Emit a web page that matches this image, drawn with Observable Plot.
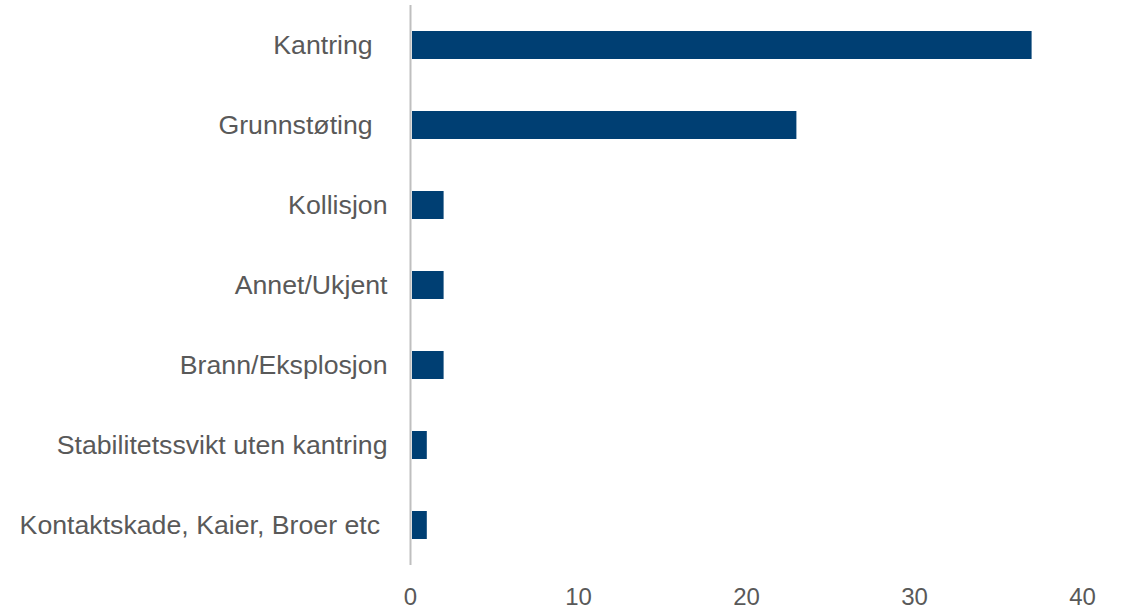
<!DOCTYPE html>
<html>
<head>
<meta charset="utf-8">
<script src="https://cdn.jsdelivr.net/npm/d3@7"></script>
<script src="https://cdn.jsdelivr.net/npm/@observablehq/plot@0.6"></script>
<style>
  html, body { margin: 0; padding: 0; background: #fff; }
  #chart svg { display: block; }
</style>
</head>
<body>
<div id="chart"></div>
<script>
const categories = [
  "Kantring\u00A0\u00A0",
  "Grunnstøting\u00A0\u00A0",
  "Kollisjon",
  "Annet/Ukjent",
  "Brann/Eksplosjon",
  "Stabilitetssvikt uten kantring",
  "Kontaktskade, Kaier, Broer etc\u00A0"
];
const values = [37, 23, 2, 2, 2, 1, 1];
const xTicks = [0, 10, 20, 30, 40];

const data = categories.map((c, i) => ({category: c, value: values[i]}));

const chart = Plot.plot({
  width: 1125,
  height: 610,
  marginLeft: 410,
  marginRight: 43,
  marginTop: 5,
  marginBottom: 45,
  style: {fontFamily: "'Liberation Sans', Arial, sans-serif", background: "#fff"},
  x: {domain: [0, 40], ticks: xTicks, label: null},
  y: {domain: categories, paddingInner: 0.656, paddingOuter: 0.328, label: null},
  marks: [
    Plot.barX(data, {y: "category", x: "value", fill: "#003f73", insetLeft: 2}),
    Plot.ruleX([0], {stroke: "#bfbfbf", strokeWidth: 2}),
    Plot.axisX({ticks: xTicks, tickSize: 0, tickPadding: 22, fontSize: 24, fill: "#595959", label: null}),
    Plot.axisY({tickSize: 0, tickPadding: 23, fontSize: 26.7, fill: "#595959", label: null})
  ]
});
document.getElementById("chart").appendChild(chart);
</script>
</body>
</html>
